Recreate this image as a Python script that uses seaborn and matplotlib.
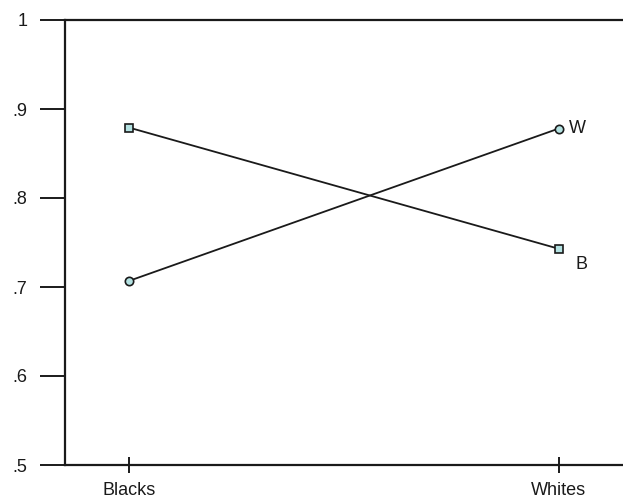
import matplotlib
matplotlib.use("Agg")
import matplotlib.pyplot as plt
import seaborn as sns
import pandas as pd

groups = ["Blacks", "Whites"]
series = ["B", "W"]
b_values = [0.879, 0.743]
w_values = [0.707, 0.878]
y_ticks = [0.5, 0.6, 0.7, 0.8, 0.9, 1.0]
y_tick_labels = [".5", ".6", ".7", ".8", ".9", "1"]

df = pd.DataFrame({
    "group": groups * 2,
    "series": ["B"] * 2 + ["W"] * 2,
    "value": b_values + w_values,
})

sns.set_theme(style="white")
plt.rcParams["font.family"] = ["Liberation Sans", "DejaVu Sans"]

fig = plt.figure(figsize=(6.23, 5.0), dpi=100)
ax = fig.add_axes([65 / 623, 35 / 500, 1 - 65 / 623, 445 / 500])

sns.lineplot(data=df, x="group", y="value", style="series",
             markers={"B": "s", "W": "o"}, dashes=False, color="#1a1a1a",
             linewidth=1.3, markersize=6, markerfacecolor="#b4e2e2",
             markeredgecolor="#1a1a1a", markeredgewidth=1.2,
             legend=False, ax=ax, sort=False)

ax.set_xlim(-0.15, 1.15)
ax.set_ylim(0.5, 1.0)
ax.set_yticks(y_ticks)
ax.set_yticklabels(y_tick_labels)
ax.set_xlabel("")
ax.set_ylabel("")

for s in ["left", "top", "bottom"]:
    ax.spines[s].set_visible(True)
    ax.spines[s].set_color("#1a1a1a")
    ax.spines[s].set_linewidth(1.6)
ax.spines["right"].set_visible(False)

ax.tick_params(axis="y", direction="out", length=18, width=1.4, color="#1a1a1a",
               pad=9, labelsize=13, left=True, labelcolor="#1a1a1a")
ax.tick_params(axis="x", direction="inout", length=12, width=1.4, color="#1a1a1a",
               pad=6, labelsize=13, bottom=True, labelcolor="#1a1a1a")

# series labels at the right end
ax.text(1.025, w_values[-1], series[1], fontsize=13, va="center", ha="left", color="#1a1a1a")
ax.text(1.04, b_values[-1] - 0.018, series[0], fontsize=13, va="center", ha="left", color="#1a1a1a")

fig.savefig("out.png", dpi=100)
